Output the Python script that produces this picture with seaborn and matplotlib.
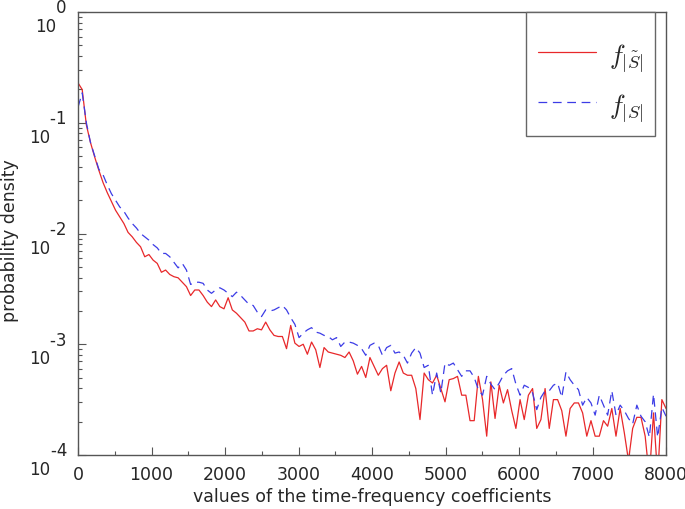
import numpy as np
import pandas as pd
import matplotlib
matplotlib.use('Agg')
import matplotlib.pyplot as plt
import matplotlib.ticker as mticker
import matplotlib.transforms as mtransforms
import seaborn as sns

# valeurs des coefficients (centres des classes de l'histogramme)
n_bins = 142
coef_values = np.linspace(0, 8000, n_bins)

# log10 de la densite
log_dens_tilde = [
    -0.64, -0.70, -1.02, -1.18, -1.31, -1.43, -1.54, -1.63, -1.71, -1.79,
    -1.85, -1.91, -1.99, -2.03, -2.08, -2.12, -2.21, -2.19, -2.24, -2.27,
    -2.35, -2.33, -2.37, -2.39, -2.40, -2.44, -2.48, -2.56, -2.51, -2.51,
    -2.56, -2.62, -2.66, -2.60, -2.66, -2.68, -2.58, -2.69, -2.72, -2.76,
    -2.80, -2.88, -2.88, -2.86, -2.87, -2.80, -2.87, -2.92, -2.93, -2.93,
    -3.04, -2.83, -2.99, -3.02, -3.00, -3.09, -2.98, -3.05, -3.21, -3.03,
    -3.07, -3.08, -3.09, -3.10, -3.12, -3.07, -3.15, -3.27, -3.20, -3.30,
    -3.12, -3.20, -3.28, -3.22, -3.19, -3.42, -3.26, -3.16, -3.26, -3.28,
    -3.28, -3.40, -3.68, -3.26, -3.32, -3.35, -3.28, -3.40, -3.52, -3.32,
    -3.31, -3.29, -3.46, -3.46, -3.69, -3.69, -3.29, -3.50, -3.83, -3.34,
    -3.67, -3.37, -3.53, -3.41, -3.60, -3.76, -3.50, -3.68, -3.46, -3.40,
    -3.76, -3.68, -3.40, -3.76, -3.50, -3.50, -3.60, -3.83, -3.58, -3.53,
    -3.53, -3.62, -3.83, -3.69, -3.83, -3.83, -3.69, -3.74, -3.58, -3.83,
    -3.58, -3.80, -4.05, -3.76, -3.66, -3.66, -3.83, -4.20, -3.62, -4.20,
    -3.50, -3.58,
]
log_dens_s = [
    -0.86, -0.73, -1.00, -1.18, -1.30, -1.42, -1.47, -1.56, -1.64, -1.70,
    -1.76, -1.80, -1.86, -1.91, -1.95, -2.00, -2.03, -2.06, -2.10, -2.13,
    -2.18, -2.18, -2.21, -2.26, -2.31, -2.27, -2.33, -2.46, -2.44, -2.44,
    -2.45, -2.51, -2.54, -2.51, -2.49, -2.51, -2.54, -2.57, -2.53, -2.56,
    -2.60, -2.64, -2.65, -2.71, -2.75, -2.69, -2.70, -2.69, -2.67, -2.65,
    -2.69, -2.76, -2.82, -2.94, -2.90, -2.87, -2.85, -2.89, -2.90, -2.92,
    -2.93, -2.96, -2.94, -3.02, -2.98, -2.98, -2.99, -3.01, -3.04, -3.10,
    -3.01, -2.99, -3.01, -3.10, -3.03, -3.01, -3.08, -3.07, -3.10, -3.17,
    -3.08, -3.03, -3.08, -3.21, -3.19, -3.46, -3.26, -3.44, -3.17, -3.19,
    -3.17, -3.23, -3.29, -3.24, -3.24, -3.30, -3.41, -3.46, -3.29, -3.36,
    -3.41, -3.35, -3.28, -3.24, -3.22, -3.36, -3.46, -3.37, -3.39, -3.44,
    -3.59, -3.48, -3.42, -3.42, -3.37, -3.35, -3.48, -3.25, -3.32, -3.37,
    -3.41, -3.55, -3.48, -3.53, -3.64, -3.46, -3.55, -3.64, -3.42, -3.64,
    -3.55, -3.60, -3.67, -3.72, -3.55, -3.65, -3.70, -3.84, -3.45, -3.84,
    -3.57, -3.65,
]

df = pd.DataFrame({
    'coef': coef_values,
    'tilde': 10.0 ** np.array(log_dens_tilde),
    'orig': 10.0 ** np.array(log_dens_s),
})

sns.set_style('white')
plt.rcParams['font.family'] = ['DejaVu Sans']
plt.rcParams['mathtext.fontset'] = 'cm'

fig = plt.figure(figsize=(6.85, 5.09), dpi=100)
ax = fig.add_axes([0.1139, 0.1061, 0.8584, 0.8703])

sns.lineplot(data=df, x='coef', y='tilde', ax=ax, color='#e8282a', lw=0.9,
             label=r'$f_{|\tilde{S}|}$')
sns.lineplot(data=df, x='coef', y='orig', ax=ax, color='#3c3ce6', lw=0.9,
             label=r'$f_{|S|}$')
ax.lines[1].set_dashes((7, 4.5))

ax.set_yscale('log')
ax.set_xlim(0, 8000)
ax.set_ylim(1e-4, 1e0)


def scilab_exp(v, pos):
    # exposant au-dessus et a droite du 10, comme Scilab
    e = int(round(np.log10(v)))
    return '    ' + str(e) + '\n10'


ax.xaxis.set_major_locator(mticker.MultipleLocator(1000))
ax.xaxis.set_minor_locator(mticker.MultipleLocator(500))
ax.yaxis.set_major_locator(mticker.LogLocator(base=10, numticks=10))
ax.yaxis.set_minor_locator(mticker.LogLocator(base=10, subs=np.arange(2, 10), numticks=10))
ax.yaxis.set_minor_formatter(mticker.NullFormatter())
ax.yaxis.set_major_formatter(mticker.FuncFormatter(scilab_exp))

ax.tick_params(axis='both', which='major', direction='in', length=6, width=0.8,
               color='#555555', labelsize=12.5, top=False, right=False, bottom=True, left=True)
ax.tick_params(axis='both', which='minor', direction='in', length=3, width=0.8,
               color='#555555', top=False, right=False, bottom=True, left=True)
ax.tick_params(axis='x', which='major', pad=8)
ax.tick_params(axis='y', which='major', labelsize=12, pad=8)
down = mtransforms.ScaledTranslation(0, -2.5 / 72, fig.dpi_scale_trans)
for t in ax.get_yticklabels():
    t.set_multialignment('left')
    t.set_linespacing(1.05)
    t.set_transform(t.get_transform() + down)

for sp in ax.spines.values():
    sp.set_color('#555555')
    sp.set_linewidth(1.0)

ax.set_xlabel('values of the time-frequency coefficients', fontsize=12.5, labelpad=3)
ax.set_ylabel('probability density', fontsize=12.5)
ax.yaxis.set_label_coords(-0.100, 0.483)

leg = ax.legend(loc='upper right', bbox_to_anchor=(0.982, 1.0), borderaxespad=0,
                fontsize=19, handlelength=2.2, handletextpad=0.5, handleheight=1.5,
                labelspacing=0.55, borderpad=0.45, fancybox=False, framealpha=1,
                title=' ', title_fontsize=1)
leg.get_frame().set_edgecolor('#666666')
leg.get_frame().set_linewidth(1.0)

fig.savefig('out.png', dpi=100)
